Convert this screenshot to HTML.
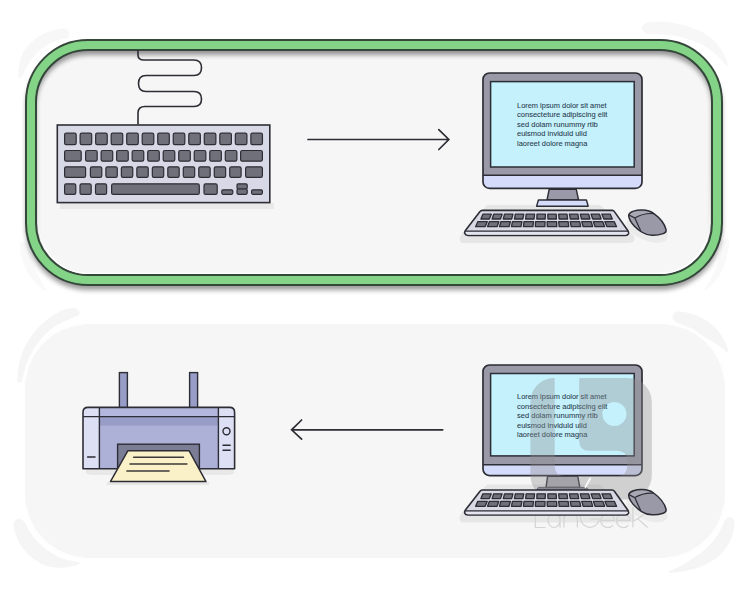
<!DOCTYPE html>
<html><head><meta charset="utf-8"><title>Input and output devices</title>
<style>
html,body{margin:0;padding:0;background:#fff;}
body{width:750px;height:600px;overflow:hidden;font-family:"Liberation Sans",sans-serif;}
svg{display:block;}
svg text{font-family:"Liberation Sans",sans-serif;}
</style></head><body>
<svg width="750" height="600" viewBox="0 0 750 600">
<defs>
<filter id="outsh" x="-5%" y="-10%" width="110%" height="125%"><feGaussianBlur stdDeviation="2.6"/><feOffset dy="4.5"/><feComponentTransfer><feFuncA type="linear" slope="0.40"/></feComponentTransfer></filter>
<filter id="insh" x="-5%" y="-10%" width="110%" height="125%"><feGaussianBlur stdDeviation="2.2"/><feOffset dy="4"/><feComponentTransfer><feFuncA type="linear" slope="0.42"/></feComponentTransfer></filter>
<filter id="soft" x="-20%" y="-20%" width="140%" height="140%"><feGaussianBlur stdDeviation="0.7"/></filter>
<filter id="fsh"><feOffset dy="0"/></filter>
<linearGradient id="hl" gradientUnits="userSpaceOnUse" x1="0" y1="170" x2="0" y2="262"><stop offset="0" stop-color="#fff" stop-opacity="0"/><stop offset="1" stop-color="#fff" stop-opacity="0.95"/></linearGradient>
<clipPath id="innerclip"><path d="M88,50H660A52,52 0 0 1 712,102V223A52,52 0 0 1 660,275H88A52,52 0 0 1 36,223V102A52,52 0 0 1 88,50Z"/></clipPath>
<clipPath id="wmclip"><rect x="520" y="370" width="140" height="121"/></clipPath>
</defs>
<path d="M19,77C19,62 24,50 32,43C42,34 52,30.5 63,29.5Q71,30.5 67.5,37.5C58,38.5 50,41.5 44,46C34,53 26,63 21.5,76Z" fill="#f7f7f7" stroke="#f7f7f7" stroke-width="2" stroke-linejoin="round" filter="url(#soft)"/>
<path d="M647,33Q639,28 646.5,23.5C660,21 680,23 700,32C713,39 723,50 727,65C719,55 712,49 704,44.5C690,37 670,32.5 647,33Z" fill="#f7f7f7" stroke="#f7f7f7" stroke-width="2" stroke-linejoin="round" filter="url(#soft)"/>
<path d="M21,243C21,262 30,280 45,290C36,276 30,262 28,244Z" fill="#f9f9f9" stroke="#f9f9f9" stroke-width="2" stroke-linejoin="round" filter="url(#soft)"/>
<path d="M728,240C728,260 720,278 706,289C716,274 721,262 722,242Z" fill="#f9f9f9" stroke="#f9f9f9" stroke-width="2" stroke-linejoin="round" filter="url(#soft)"/>
<path d="M18.3,382C18,355 28,335 50,318.5C58,313 66,309.5 72,309Q80.5,309.5 78,314.5C68,318.5 60,322 55,325C38,337 26,355 21,381Z" fill="#f5f5f5" stroke="#f5f5f5" stroke-width="2" stroke-linejoin="round" filter="url(#soft)"/>
<path d="M676,321Q670.5,316.5 676.5,312.5C690,312 706,319 716,330C722,337 726,344 727,351C721,344 710,339.5 700,333.5C692,329 684,324.5 676,321Z" fill="#f5f5f5" stroke="#f5f5f5" stroke-width="2" stroke-linejoin="round" filter="url(#soft)"/>
<path d="M725.5,521Q729.5,515 733.5,521C734,535 727,550 712,560C700,567.5 685,571.5 670,572C682,567 690,562 697,556.5C709,549 719,538 725.5,521Z" fill="#f5f5f5" stroke="#f5f5f5" stroke-width="2" stroke-linejoin="round" filter="url(#soft)"/>
<path d="M24.5,523.5Q19,516.5 14.5,523C15,537 24,553 40,562C52,568 66,568 78.5,563C70,562 64,560.5 58.3,558C44,551 30,538 24.5,523.5Z" fill="#f5f5f5" stroke="#f5f5f5" stroke-width="2" stroke-linejoin="round" filter="url(#soft)"/>
<g filter="url(#fsh)">
<path d="M88,50H660A52,52 0 0 1 712,102V223A52,52 0 0 1 660,275H88A52,52 0 0 1 36,223V102A52,52 0 0 1 88,50Z" fill="#f6f6f6"/>
</g>
<path d="M88,50H660A52,52 0 0 1 712,102V223A52,52 0 0 1 660,275H88A52,52 0 0 1 36,223V102A52,52 0 0 1 88,50Z" fill="#f6f6f6"/>
<path d="M88,40H660A62,62 0 0 1 722,102V223A62,62 0 0 1 660,285H88A62,62 0 0 1 26,223V102A62,62 0 0 1 88,40Z M88,50H660A52,52 0 0 1 712,102V223A52,52 0 0 1 660,275H88A52,52 0 0 1 36,223V102A52,52 0 0 1 88,50Z" fill-rule="evenodd" fill="#000" filter="url(#outsh)"/>
<path d="M88,40H660A62,62 0 0 1 722,102V223A62,62 0 0 1 660,285H88A62,62 0 0 1 26,223V102A62,62 0 0 1 88,40Z M88,50H660A52,52 0 0 1 712,102V223A52,52 0 0 1 660,275H88A52,52 0 0 1 36,223V102A52,52 0 0 1 88,50Z" fill-rule="evenodd" fill="#83d487" stroke="#35463a" stroke-width="2"/>
<path d="M38.6,170V223A50.4,50.4 0 0 0 89,273.4H659A50.4,50.4 0 0 0 709.4,223V170" fill="none" stroke="url(#hl)" stroke-width="1.4"/>
<path d="M88,324H662A63,63 0 0 1 725,387V495A63,63 0 0 1 662,558H88A63,63 0 0 1 25,495V387A63,63 0 0 1 88,324Z" fill="#f6f6f6"/>
<path d="M25,375.9A64,64 0 0 1 82.4,323.2M667.6,323.2A64,64 0 0 1 725,375.9M725,506.1A64,64 0 0 1 667.6,558.8M82.4,558.8A64,64 0 0 1 25,506.1" fill="none" stroke="#fefefe" stroke-width="3" stroke-linecap="round" filter="url(#soft)"/>
<rect x="60" y="203" width="214" height="6" fill="#e9e9ea"/>
<path d="M138,50.5V55Q138,60 144,60H194Q201.5,60 201.5,67.75Q201.5,75.5 194,75.5H146Q138.5,75.5 138.5,83.5Q138.5,91.5 146,91.5H194Q201.5,91.5 201.5,99Q201.5,106.5 194,106.5H145Q138,106.5 138,113V124.5" fill="none" stroke="#2d2d35" stroke-width="1.6"/>
<rect x="57.3" y="125" width="212.5" height="77.6" fill="#d7d9e7" stroke="#2d2d35" stroke-width="1.6"/>
<rect x="64.60" y="133.20" width="11.60" height="11.40" rx="1.6" fill="#6f7079" stroke="#2d2d35" stroke-width="1.2"/>
<rect x="80.12" y="133.20" width="11.60" height="11.40" rx="1.6" fill="#6f7079" stroke="#2d2d35" stroke-width="1.2"/>
<rect x="95.64" y="133.20" width="11.60" height="11.40" rx="1.6" fill="#6f7079" stroke="#2d2d35" stroke-width="1.2"/>
<rect x="111.16" y="133.20" width="11.60" height="11.40" rx="1.6" fill="#6f7079" stroke="#2d2d35" stroke-width="1.2"/>
<rect x="126.68" y="133.20" width="11.60" height="11.40" rx="1.6" fill="#6f7079" stroke="#2d2d35" stroke-width="1.2"/>
<rect x="142.20" y="133.20" width="11.60" height="11.40" rx="1.6" fill="#6f7079" stroke="#2d2d35" stroke-width="1.2"/>
<rect x="157.72" y="133.20" width="11.60" height="11.40" rx="1.6" fill="#6f7079" stroke="#2d2d35" stroke-width="1.2"/>
<rect x="173.24" y="133.20" width="11.60" height="11.40" rx="1.6" fill="#6f7079" stroke="#2d2d35" stroke-width="1.2"/>
<rect x="188.76" y="133.20" width="11.60" height="11.40" rx="1.6" fill="#6f7079" stroke="#2d2d35" stroke-width="1.2"/>
<rect x="204.28" y="133.20" width="11.60" height="11.40" rx="1.6" fill="#6f7079" stroke="#2d2d35" stroke-width="1.2"/>
<rect x="219.80" y="133.20" width="11.60" height="11.40" rx="1.6" fill="#6f7079" stroke="#2d2d35" stroke-width="1.2"/>
<rect x="235.32" y="133.20" width="11.60" height="11.40" rx="1.6" fill="#6f7079" stroke="#2d2d35" stroke-width="1.2"/>
<rect x="250.84" y="133.20" width="11.60" height="11.40" rx="1.6" fill="#6f7079" stroke="#2d2d35" stroke-width="1.2"/>
<rect x="64.60" y="150.50" width="16.60" height="10.70" rx="1.6" fill="#6f7079" stroke="#2d2d35" stroke-width="1.2"/>
<rect x="85.60" y="150.50" width="11.60" height="10.70" rx="1.6" fill="#6f7079" stroke="#2d2d35" stroke-width="1.2"/>
<rect x="101.12" y="150.50" width="11.60" height="10.70" rx="1.6" fill="#6f7079" stroke="#2d2d35" stroke-width="1.2"/>
<rect x="116.64" y="150.50" width="11.60" height="10.70" rx="1.6" fill="#6f7079" stroke="#2d2d35" stroke-width="1.2"/>
<rect x="132.16" y="150.50" width="11.60" height="10.70" rx="1.6" fill="#6f7079" stroke="#2d2d35" stroke-width="1.2"/>
<rect x="147.68" y="150.50" width="11.60" height="10.70" rx="1.6" fill="#6f7079" stroke="#2d2d35" stroke-width="1.2"/>
<rect x="163.20" y="150.50" width="11.60" height="10.70" rx="1.6" fill="#6f7079" stroke="#2d2d35" stroke-width="1.2"/>
<rect x="178.72" y="150.50" width="11.60" height="10.70" rx="1.6" fill="#6f7079" stroke="#2d2d35" stroke-width="1.2"/>
<rect x="194.24" y="150.50" width="11.60" height="10.70" rx="1.6" fill="#6f7079" stroke="#2d2d35" stroke-width="1.2"/>
<rect x="209.76" y="150.50" width="11.60" height="10.70" rx="1.6" fill="#6f7079" stroke="#2d2d35" stroke-width="1.2"/>
<rect x="225.28" y="150.50" width="11.60" height="10.70" rx="1.6" fill="#6f7079" stroke="#2d2d35" stroke-width="1.2"/>
<rect x="240.60" y="150.50" width="21.80" height="10.70" rx="1.6" fill="#6f7079" stroke="#2d2d35" stroke-width="1.2"/>
<rect x="64.60" y="166.80" width="21.00" height="10.60" rx="1.6" fill="#6f7079" stroke="#2d2d35" stroke-width="1.2"/>
<rect x="90.40" y="166.80" width="11.40" height="10.60" rx="1.6" fill="#6f7079" stroke="#2d2d35" stroke-width="1.2"/>
<rect x="105.88" y="166.80" width="11.40" height="10.60" rx="1.6" fill="#6f7079" stroke="#2d2d35" stroke-width="1.2"/>
<rect x="121.36" y="166.80" width="11.40" height="10.60" rx="1.6" fill="#6f7079" stroke="#2d2d35" stroke-width="1.2"/>
<rect x="136.84" y="166.80" width="11.40" height="10.60" rx="1.6" fill="#6f7079" stroke="#2d2d35" stroke-width="1.2"/>
<rect x="152.32" y="166.80" width="11.40" height="10.60" rx="1.6" fill="#6f7079" stroke="#2d2d35" stroke-width="1.2"/>
<rect x="167.80" y="166.80" width="11.40" height="10.60" rx="1.6" fill="#6f7079" stroke="#2d2d35" stroke-width="1.2"/>
<rect x="183.28" y="166.80" width="11.40" height="10.60" rx="1.6" fill="#6f7079" stroke="#2d2d35" stroke-width="1.2"/>
<rect x="198.76" y="166.80" width="11.40" height="10.60" rx="1.6" fill="#6f7079" stroke="#2d2d35" stroke-width="1.2"/>
<rect x="214.24" y="166.80" width="11.40" height="10.60" rx="1.6" fill="#6f7079" stroke="#2d2d35" stroke-width="1.2"/>
<rect x="229.72" y="166.80" width="11.40" height="10.60" rx="1.6" fill="#6f7079" stroke="#2d2d35" stroke-width="1.2"/>
<rect x="245.60" y="166.80" width="16.80" height="10.60" rx="1.6" fill="#6f7079" stroke="#2d2d35" stroke-width="1.2"/>
<rect x="64.60" y="183.80" width="11.20" height="10.50" rx="1.6" fill="#6f7079" stroke="#2d2d35" stroke-width="1.2"/>
<rect x="80.00" y="183.80" width="11.20" height="10.50" rx="1.6" fill="#6f7079" stroke="#2d2d35" stroke-width="1.2"/>
<rect x="95.50" y="183.80" width="11.10" height="10.50" rx="1.6" fill="#6f7079" stroke="#2d2d35" stroke-width="1.2"/>
<rect x="111.60" y="183.80" width="87.70" height="10.50" rx="1.6" fill="#6f7079" stroke="#2d2d35" stroke-width="1.2"/>
<rect x="204.00" y="183.80" width="13.20" height="10.50" rx="1.6" fill="#6f7079" stroke="#2d2d35" stroke-width="1.2"/>
<rect x="221.80" y="189.80" width="11.00" height="4.50" rx="1.2" fill="#6f7079" stroke="#2d2d35" stroke-width="1.2"/>
<rect x="237.00" y="183.80" width="10.20" height="5.20" rx="1.2" fill="#6f7079" stroke="#2d2d35" stroke-width="1.2"/>
<rect x="237.00" y="189.00" width="10.20" height="5.30" rx="1.2" fill="#6f7079" stroke="#2d2d35" stroke-width="1.2"/>
<rect x="251.60" y="189.80" width="10.80" height="4.50" rx="1.2" fill="#6f7079" stroke="#2d2d35" stroke-width="1.2"/>
<path d="M308,139.5H448.5M438.8,129.7L448.8,139.5L438.8,149.5" fill="none" stroke="#2d2d35" stroke-width="1.7" stroke-linecap="round" stroke-linejoin="miter"/>
<path d="M442.7,429.8H292M301.6,420L291.6,429.8L301.6,439.2" fill="none" stroke="#2d2d35" stroke-width="1.7" stroke-linecap="round" stroke-linejoin="miter"/>
<path d="M487,205.0H600L634,236.0Q636,243.0 628,243.0H462Q457,240.0 462,233.0Z" fill="#e6e6e7"/>
<ellipse cx="647" cy="230.0" rx="22" ry="10.5" transform="rotate(22 647 230.0)" fill="#ebebec"/>
<path d="M549.2,189.2H576.2L578.6,200.0H547Z" fill="#9a99a8" stroke="#2d2d35" stroke-width="1.4" stroke-linejoin="round"/>
<path d="M538.4,200.0H586.4L588.2,206.2H536.6Z" fill="#d5dcfb" stroke="#2d2d35" stroke-width="1.4" stroke-linejoin="round"/>
<clipPath id="mc72"><path d="M489.5,73.0H635.5A6.5,6.5 0 0 1 642,79.5V181.89999999999998A6.5,6.5 0 0 1 635.5,188.39999999999998H489.5A6.5,6.5 0 0 1 483,181.89999999999998V79.5A6.5,6.5 0 0 1 489.5,73.0Z"/></clipPath>
<g clip-path="url(#mc72)"><rect x="480" y="72.2" width="166" height="103.10000000000001" fill="#9a99a8"/><rect x="480" y="175.3" width="166" height="15.899999999999977" fill="#d5dcfb"/></g>
<path d="M483,175.3H642" stroke="#2d2d35" stroke-width="1.5"/>
<path d="M489.5,73.0H635.5A6.5,6.5 0 0 1 642,79.5V181.89999999999998A6.5,6.5 0 0 1 635.5,188.39999999999998H489.5A6.5,6.5 0 0 1 483,181.89999999999998V79.5A6.5,6.5 0 0 1 489.5,73.0Z" fill="none" stroke="#2d2d35" stroke-width="1.7"/>
<rect x="490.6" y="81.6" width="143.6" height="85.4" fill="#c4f1fc" stroke="#2d2d35" stroke-width="1.5"/>
<text x="517" y="108.0" textLength="89.6" lengthAdjust="spacingAndGlyphs" font-size="7.7" fill="#2b3d4d" stroke="#2b3d4d" stroke-width="0.08">Lorem ipsum dolor sit amet</text>
<text x="517" y="117.4" textLength="90.4" lengthAdjust="spacingAndGlyphs" font-size="7.7" fill="#2b3d4d" stroke="#2b3d4d" stroke-width="0.08">consecteture adipiscing elit</text>
<text x="517" y="126.8" textLength="80.8" lengthAdjust="spacingAndGlyphs" font-size="7.7" fill="#2b3d4d" stroke="#2b3d4d" stroke-width="0.08">sed dolam runummy rtib</text>
<text x="517" y="136.2" textLength="69.9" lengthAdjust="spacingAndGlyphs" font-size="7.7" fill="#2b3d4d" stroke="#2b3d4d" stroke-width="0.08">euismod inviduld ulid</text>
<text x="517" y="145.6" textLength="70.4" lengthAdjust="spacingAndGlyphs" font-size="7.7" fill="#2b3d4d" stroke="#2b3d4d" stroke-width="0.08">laoreet dolore magna</text>
<path d="M482.2,210.4H612.4Q613.6,210.4 614.4,211.6L627.6,230.2Q629,232.2 628.4,233.8Q627.6,235.4 625.6,235.4H468Q465.4,235.4 464.8,233.6Q464.2,231.79999999999998 465.6,230.2L480,211.6Q480.8,210.4 482.2,210.4Z" fill="#d8d9e5" stroke="#2d2d35" stroke-width="1.6" stroke-linejoin="round"/>
<path d="M466,231.79999999999998H627.4Q628,234.20000000000002 625.6,234.70000000000002H468Q465.6,234.4 466,231.79999999999998Z" fill="#e4e5ef"/>
<path d="M465.2,231.2H628" stroke="#2d2d35" stroke-width="1.3"/>
<path d="M482.90,214.20L491.30,214.20L489.30,219.00L480.90,219.00Z" fill="#6f7079" stroke="#2d2d35" stroke-width="1.3" stroke-linejoin="round"/>
<path d="M493.72,214.20L502.12,214.20L500.48,219.00L492.08,219.00Z" fill="#6f7079" stroke="#2d2d35" stroke-width="1.3" stroke-linejoin="round"/>
<path d="M504.54,214.20L512.94,214.20L511.66,219.00L503.26,219.00Z" fill="#6f7079" stroke="#2d2d35" stroke-width="1.3" stroke-linejoin="round"/>
<path d="M515.35,214.20L523.75,214.20L522.85,219.00L514.45,219.00Z" fill="#6f7079" stroke="#2d2d35" stroke-width="1.3" stroke-linejoin="round"/>
<path d="M526.17,214.20L534.57,214.20L534.03,219.00L525.63,219.00Z" fill="#6f7079" stroke="#2d2d35" stroke-width="1.3" stroke-linejoin="round"/>
<path d="M536.99,214.20L545.39,214.20L545.21,219.00L536.81,219.00Z" fill="#6f7079" stroke="#2d2d35" stroke-width="1.3" stroke-linejoin="round"/>
<path d="M547.81,214.20L556.21,214.20L556.39,219.00L547.99,219.00Z" fill="#6f7079" stroke="#2d2d35" stroke-width="1.3" stroke-linejoin="round"/>
<path d="M558.63,214.20L567.03,214.20L567.57,219.00L559.17,219.00Z" fill="#6f7079" stroke="#2d2d35" stroke-width="1.3" stroke-linejoin="round"/>
<path d="M569.45,214.20L577.85,214.20L578.75,219.00L570.35,219.00Z" fill="#6f7079" stroke="#2d2d35" stroke-width="1.3" stroke-linejoin="round"/>
<path d="M580.26,214.20L588.66,214.20L589.94,219.00L581.54,219.00Z" fill="#6f7079" stroke="#2d2d35" stroke-width="1.3" stroke-linejoin="round"/>
<path d="M591.08,214.20L599.48,214.20L601.12,219.00L592.72,219.00Z" fill="#6f7079" stroke="#2d2d35" stroke-width="1.3" stroke-linejoin="round"/>
<path d="M601.90,214.20L610.30,214.20L612.30,219.00L603.90,219.00Z" fill="#6f7079" stroke="#2d2d35" stroke-width="1.3" stroke-linejoin="round"/>
<path d="M477.80,221.70L487.30,221.70L485.10,226.70L475.60,226.70Z" fill="#6f7079" stroke="#2d2d35" stroke-width="1.3" stroke-linejoin="round"/>
<path d="M489.35,221.70L498.85,221.70L497.05,226.70L487.55,226.70Z" fill="#6f7079" stroke="#2d2d35" stroke-width="1.3" stroke-linejoin="round"/>
<path d="M500.90,221.70L510.40,221.70L509.00,226.70L499.50,226.70Z" fill="#6f7079" stroke="#2d2d35" stroke-width="1.3" stroke-linejoin="round"/>
<path d="M512.45,221.70L521.95,221.70L520.95,226.70L511.45,226.70Z" fill="#6f7079" stroke="#2d2d35" stroke-width="1.3" stroke-linejoin="round"/>
<path d="M524.00,221.70L533.50,221.70L532.90,226.70L523.40,226.70Z" fill="#6f7079" stroke="#2d2d35" stroke-width="1.3" stroke-linejoin="round"/>
<path d="M535.55,221.70L545.05,221.70L544.85,226.70L535.35,226.70Z" fill="#6f7079" stroke="#2d2d35" stroke-width="1.3" stroke-linejoin="round"/>
<path d="M547.10,221.70L556.60,221.70L556.80,226.70L547.30,226.70Z" fill="#6f7079" stroke="#2d2d35" stroke-width="1.3" stroke-linejoin="round"/>
<path d="M558.65,221.70L568.15,221.70L568.75,226.70L559.25,226.70Z" fill="#6f7079" stroke="#2d2d35" stroke-width="1.3" stroke-linejoin="round"/>
<path d="M570.20,221.70L579.70,221.70L580.70,226.70L571.20,226.70Z" fill="#6f7079" stroke="#2d2d35" stroke-width="1.3" stroke-linejoin="round"/>
<path d="M581.75,221.70L591.25,221.70L592.65,226.70L583.15,226.70Z" fill="#6f7079" stroke="#2d2d35" stroke-width="1.3" stroke-linejoin="round"/>
<path d="M593.30,221.70L602.80,221.70L604.60,226.70L595.10,226.70Z" fill="#6f7079" stroke="#2d2d35" stroke-width="1.3" stroke-linejoin="round"/>
<path d="M604.85,221.70L614.35,221.70L616.55,226.70L607.05,226.70Z" fill="#6f7079" stroke="#2d2d35" stroke-width="1.3" stroke-linejoin="round"/>
<path d="M628.8,214.8C629.6,211.6 636,209.8 642.4,210.0C647.4,210.2 651,211.4 653.6,213.4C659.4,217.6 664.6,224.0 666,229.4C666.6,232.0 665.2,233.0 663.2,233.6C659.6,234.8 655.6,235.4 652,235.2C648,235.0 644.6,234.0 641.6,232.0C636.8,228.8 632.6,224.8 630.4,220.8C629.2,218.6 628.4,216.4 628.8,214.8Z" fill="#9a99a8"/>
<path d="M628.8,214.8C629.6,211.6 636,209.8 642.4,210.0C647.4,210.2 651,211.4 653.6,213.4C647.6,213.2 640.6,214.6 634.8,218.0Z" fill="#a8a8b5"/>
<path d="M628.8,214.8L634.8,218.0C636.8,222.4 638.6,226.6 640.6,230.6C636.8,228.8 632.6,224.8 630.4,220.8C629.2,218.6 628.4,216.4 628.8,214.8Z" fill="#a1a1ae"/>
<path d="M628.8,214.8C629.6,211.6 636,209.8 642.4,210.0C647.4,210.2 651,211.4 653.6,213.4C659.4,217.6 664.6,224.0 666,229.4C666.6,232.0 665.2,233.0 663.2,233.6C659.6,234.8 655.6,235.4 652,235.2C648,235.0 644.6,234.0 641.6,232.0C636.8,228.8 632.6,224.8 630.4,220.8C629.2,218.6 628.4,216.4 628.8,214.8Z" fill="none" stroke="#2d2d35" stroke-width="1.5" stroke-linejoin="round"/>
<path d="M629,215.0L634.8,218.0C636.8,222.4 638.6,226.6 640.6,230.6M634.8,218.0C640.6,214.6 647.6,213.2 653.4,213.6" fill="none" stroke="#2d2d35" stroke-width="1.2" stroke-linecap="round"/>
<path d="M86,469H234V473Q232,475 228,475H92Q88,475 86,473Z" fill="#e8e8e9"/>
<path d="M107,482H209V485H107Z" fill="#e6e6e7"/>
<rect x="119.4" y="372.6" width="8" height="36" fill="#989dc8" stroke="#2d2d35" stroke-width="1.4"/>
<rect x="189.6" y="372.6" width="8" height="36" fill="#989dc8" stroke="#2d2d35" stroke-width="1.4"/>
<clipPath id="pc"><path d="M88,407.4H229.6Q234.6,407.4 234.6,412.4V468.8H83V412.4Q83,407.4 88,407.4Z"/></clipPath>
<g clip-path="url(#pc)"><rect x="80" y="400" width="160" height="75" fill="#adb1d8"/><rect x="80" y="400" width="160" height="16.6" fill="#b3b7de"/><rect x="99" y="416.6" width="119.5" height="9" fill="#989dc8"/><rect x="80" y="400" width="19.4" height="75" fill="#dddff4"/><rect x="218.4" y="400" width="20" height="75" fill="#dddff4"/></g>
<path d="M99.4,407.4V468.8M218.4,407.4V468.8M83,416.6H234.6" stroke="#2d2d35" stroke-width="1.4" fill="none"/>
<path d="M88,407.4H229.6Q234.6,407.4 234.6,412.4V468.8H83V412.4Q83,407.4 88,407.4Z" fill="none" stroke="#2d2d35" stroke-width="1.6" stroke-linejoin="round"/>
<rect x="117.6" y="444.2" width="81.8" height="24.6" fill="#7b7d97" stroke="#2d2d35" stroke-width="1.4"/>
<path d="M127.8,450.8H189.2L206,481.6H110.4Z" fill="#fbf1c9" stroke="#2d2d35" stroke-width="1.5" stroke-linejoin="round"/>
<path d="M133.6,457.2H183.5M130,463.9H186.9M126.9,470.9H169.1" stroke="#3c3a3a" stroke-width="1.5" stroke-linecap="round"/>
<path d="M87.6,457H95" stroke="#2d2d35" stroke-width="1.5" stroke-linecap="round"/>
<circle cx="226.5" cy="431.3" r="3.5" fill="#dddff4" stroke="#2d2d35" stroke-width="1.4"/>
<path d="M223,445.2H230.2M223,450.2H230.2" stroke="#2d2d35" stroke-width="1.4" stroke-linecap="round"/>
<path d="M487,484.6H600L634,515.6Q636,522.6 628,522.6H462Q457,519.6 462,512.6Z" fill="#e6e6e7"/>
<ellipse cx="647" cy="509.6" rx="22" ry="10.5" transform="rotate(22 647 509.6)" fill="#ebebec"/>
<path d="M547.6,476.4H577.8L579.8,487.4H546Z" fill="#b0b0b8" stroke="#2d2d35" stroke-width="1.4" stroke-linejoin="round"/>
<path d="M538.4,487.4H586.4L588.2,490.0H536.6Z" fill="#8a8996" stroke="#55555e" stroke-width="1" stroke-linejoin="round"/>
<clipPath id="mc364"><path d="M489.5,365.0H635.5A6.5,6.5 0 0 1 642,371.5V469.09999999999997A6.5,6.5 0 0 1 635.5,475.59999999999997H489.5A6.5,6.5 0 0 1 483,469.09999999999997V371.5A6.5,6.5 0 0 1 489.5,365.0Z"/></clipPath>
<g clip-path="url(#mc364)"><rect x="480" y="364.2" width="166" height="100.60000000000002" fill="#9a99a8"/><rect x="480" y="464.8" width="166" height="13.599999999999966" fill="#d5dcfb"/></g>
<path d="M483,464.8H642" stroke="#2d2d35" stroke-width="1.5"/>
<path d="M489.5,365.0H635.5A6.5,6.5 0 0 1 642,371.5V469.09999999999997A6.5,6.5 0 0 1 635.5,475.59999999999997H489.5A6.5,6.5 0 0 1 483,469.09999999999997V371.5A6.5,6.5 0 0 1 489.5,365.0Z" fill="none" stroke="#2d2d35" stroke-width="1.7"/>
<rect x="490.6" y="373.5" width="143.6" height="82.39999999999998" fill="#c4f1fc" stroke="#2d2d35" stroke-width="1.5"/>
<text x="517" y="399.3" textLength="89.6" lengthAdjust="spacingAndGlyphs" font-size="7.7" fill="#2b3d4d" stroke="#2b3d4d" stroke-width="0.08">Lorem ipsum dolor sit amet</text>
<text x="517" y="408.7" textLength="90.4" lengthAdjust="spacingAndGlyphs" font-size="7.7" fill="#2b3d4d" stroke="#2b3d4d" stroke-width="0.08">consecteture adipiscing elit</text>
<text x="517" y="418.1" textLength="80.8" lengthAdjust="spacingAndGlyphs" font-size="7.7" fill="#2b3d4d" stroke="#2b3d4d" stroke-width="0.08">sed dolam runummy rtib</text>
<text x="517" y="427.5" textLength="69.9" lengthAdjust="spacingAndGlyphs" font-size="7.7" fill="#2b3d4d" stroke="#2b3d4d" stroke-width="0.08">euismod inviduld ulid</text>
<text x="517" y="436.9" textLength="70.4" lengthAdjust="spacingAndGlyphs" font-size="7.7" fill="#2b3d4d" stroke="#2b3d4d" stroke-width="0.08">laoreet dolore magna</text>
<path d="M554.4,378H627.8A24,24 0 0 1 651.8,402V475.4A24,24 0 0 1 627.8,499.4H554.4A24,24 0 0 1 530.4,475.4V402A24,24 0 0 1 554.4,378Z M554.7,378H579.2V441Q579.2,450.8 589,450.8H617Q627.2,450.8 627.2,461V466Q627.2,476 617,476H565Q554.7,476 554.7,466Z M602.4,414A12,12 0 1 0 626.4,414A12,12 0 1 0 602.4,414Z" fill-rule="evenodd" fill="#8c8c91" fill-opacity="0.36"/>
<path d="M590.2,478.4L585.4,487" stroke="#f8f8f8" stroke-width="2" stroke-linecap="round"/>
<path d="M535.3,507V527.5H545.5 M560,513.5V527.5 M560,520.5A6,7 0 1 0 548,520.5A6,7 0 1 0 560,520.5 M564,513.5V527.5 M564,520C564,515.8 567,513.5 570.7,513.5C574.6,513.5 577.4,516 577.4,520.4V527.5 M598.2,511.3A9.6,10.5 0 1 0 599.4,519H590.5 M600.9,520.3H614.5A6.8,7 0 1 0 612.9,525.2 M616.5,520.3H630.1A6.8,7 0 1 0 628.5,525.2 M632.9,507V527.5 M645.6,513.5L633,521.6 M637.6,518.6L647.6,527.5" fill="none" stroke="#d4d4d4" stroke-width="1.2"/>
<path d="M482.2,490.0H612.4Q613.6,490.0 614.4,491.2L627.6,509.8Q629,511.8 628.4,513.4Q627.6,515.0 625.6,515.0H468Q465.4,515.0 464.8,513.2Q464.2,511.40000000000003 465.6,509.8L480,491.2Q480.8,490.0 482.2,490.0Z" fill="#d8d9e5" stroke="#2d2d35" stroke-width="1.6" stroke-linejoin="round"/>
<path d="M466,511.40000000000003H627.4Q628,513.8 625.6,514.3H468Q465.6,514.0 466,511.40000000000003Z" fill="#e4e5ef"/>
<path d="M465.2,510.8H628" stroke="#2d2d35" stroke-width="1.3"/>
<path d="M482.90,493.80L491.30,493.80L489.30,498.60L480.90,498.60Z" fill="#6f7079" stroke="#2d2d35" stroke-width="1.3" stroke-linejoin="round"/>
<path d="M493.72,493.80L502.12,493.80L500.48,498.60L492.08,498.60Z" fill="#6f7079" stroke="#2d2d35" stroke-width="1.3" stroke-linejoin="round"/>
<path d="M504.54,493.80L512.94,493.80L511.66,498.60L503.26,498.60Z" fill="#6f7079" stroke="#2d2d35" stroke-width="1.3" stroke-linejoin="round"/>
<path d="M515.35,493.80L523.75,493.80L522.85,498.60L514.45,498.60Z" fill="#6f7079" stroke="#2d2d35" stroke-width="1.3" stroke-linejoin="round"/>
<path d="M526.17,493.80L534.57,493.80L534.03,498.60L525.63,498.60Z" fill="#6f7079" stroke="#2d2d35" stroke-width="1.3" stroke-linejoin="round"/>
<path d="M536.99,493.80L545.39,493.80L545.21,498.60L536.81,498.60Z" fill="#6f7079" stroke="#2d2d35" stroke-width="1.3" stroke-linejoin="round"/>
<path d="M547.81,493.80L556.21,493.80L556.39,498.60L547.99,498.60Z" fill="#6f7079" stroke="#2d2d35" stroke-width="1.3" stroke-linejoin="round"/>
<path d="M558.63,493.80L567.03,493.80L567.57,498.60L559.17,498.60Z" fill="#6f7079" stroke="#2d2d35" stroke-width="1.3" stroke-linejoin="round"/>
<path d="M569.45,493.80L577.85,493.80L578.75,498.60L570.35,498.60Z" fill="#6f7079" stroke="#2d2d35" stroke-width="1.3" stroke-linejoin="round"/>
<path d="M580.26,493.80L588.66,493.80L589.94,498.60L581.54,498.60Z" fill="#6f7079" stroke="#2d2d35" stroke-width="1.3" stroke-linejoin="round"/>
<path d="M591.08,493.80L599.48,493.80L601.12,498.60L592.72,498.60Z" fill="#6f7079" stroke="#2d2d35" stroke-width="1.3" stroke-linejoin="round"/>
<path d="M601.90,493.80L610.30,493.80L612.30,498.60L603.90,498.60Z" fill="#6f7079" stroke="#2d2d35" stroke-width="1.3" stroke-linejoin="round"/>
<path d="M477.80,501.30L487.30,501.30L485.10,506.30L475.60,506.30Z" fill="#6f7079" stroke="#2d2d35" stroke-width="1.3" stroke-linejoin="round"/>
<path d="M489.35,501.30L498.85,501.30L497.05,506.30L487.55,506.30Z" fill="#6f7079" stroke="#2d2d35" stroke-width="1.3" stroke-linejoin="round"/>
<path d="M500.90,501.30L510.40,501.30L509.00,506.30L499.50,506.30Z" fill="#6f7079" stroke="#2d2d35" stroke-width="1.3" stroke-linejoin="round"/>
<path d="M512.45,501.30L521.95,501.30L520.95,506.30L511.45,506.30Z" fill="#6f7079" stroke="#2d2d35" stroke-width="1.3" stroke-linejoin="round"/>
<path d="M524.00,501.30L533.50,501.30L532.90,506.30L523.40,506.30Z" fill="#6f7079" stroke="#2d2d35" stroke-width="1.3" stroke-linejoin="round"/>
<path d="M535.55,501.30L545.05,501.30L544.85,506.30L535.35,506.30Z" fill="#6f7079" stroke="#2d2d35" stroke-width="1.3" stroke-linejoin="round"/>
<path d="M547.10,501.30L556.60,501.30L556.80,506.30L547.30,506.30Z" fill="#6f7079" stroke="#2d2d35" stroke-width="1.3" stroke-linejoin="round"/>
<path d="M558.65,501.30L568.15,501.30L568.75,506.30L559.25,506.30Z" fill="#6f7079" stroke="#2d2d35" stroke-width="1.3" stroke-linejoin="round"/>
<path d="M570.20,501.30L579.70,501.30L580.70,506.30L571.20,506.30Z" fill="#6f7079" stroke="#2d2d35" stroke-width="1.3" stroke-linejoin="round"/>
<path d="M581.75,501.30L591.25,501.30L592.65,506.30L583.15,506.30Z" fill="#6f7079" stroke="#2d2d35" stroke-width="1.3" stroke-linejoin="round"/>
<path d="M593.30,501.30L602.80,501.30L604.60,506.30L595.10,506.30Z" fill="#6f7079" stroke="#2d2d35" stroke-width="1.3" stroke-linejoin="round"/>
<path d="M604.85,501.30L614.35,501.30L616.55,506.30L607.05,506.30Z" fill="#6f7079" stroke="#2d2d35" stroke-width="1.3" stroke-linejoin="round"/>
<path d="M628.8,494.40000000000003C629.6,491.20000000000005 636,489.40000000000003 642.4,489.6C647.4,489.8 651,491.0 653.6,493.0C659.4,497.20000000000005 664.6,503.6 666,509.0C666.6,511.6 665.2,512.6 663.2,513.2C659.6,514.4000000000001 655.6,515.0 652,514.8C648,514.6 644.6,513.6 641.6,511.6C636.8,508.40000000000003 632.6,504.40000000000003 630.4,500.40000000000003C629.2,498.20000000000005 628.4,496.0 628.8,494.40000000000003Z" fill="#9a99a8"/>
<path d="M628.8,494.40000000000003C629.6,491.20000000000005 636,489.40000000000003 642.4,489.6C647.4,489.8 651,491.0 653.6,493.0C647.6,492.8 640.6,494.20000000000005 634.8,497.6Z" fill="#a8a8b5"/>
<path d="M628.8,494.40000000000003L634.8,497.6C636.8,502.0 638.6,506.20000000000005 640.6,510.20000000000005C636.8,508.40000000000003 632.6,504.40000000000003 630.4,500.40000000000003C629.2,498.20000000000005 628.4,496.0 628.8,494.40000000000003Z" fill="#a1a1ae"/>
<path d="M628.8,494.40000000000003C629.6,491.20000000000005 636,489.40000000000003 642.4,489.6C647.4,489.8 651,491.0 653.6,493.0C659.4,497.20000000000005 664.6,503.6 666,509.0C666.6,511.6 665.2,512.6 663.2,513.2C659.6,514.4000000000001 655.6,515.0 652,514.8C648,514.6 644.6,513.6 641.6,511.6C636.8,508.40000000000003 632.6,504.40000000000003 630.4,500.40000000000003C629.2,498.20000000000005 628.4,496.0 628.8,494.40000000000003Z" fill="none" stroke="#2d2d35" stroke-width="1.5" stroke-linejoin="round"/>
<path d="M629,494.6L634.8,497.6C636.8,502.0 638.6,506.20000000000005 640.6,510.20000000000005M634.8,497.6C640.6,494.20000000000005 647.6,492.8 653.4,493.20000000000005" fill="none" stroke="#2d2d35" stroke-width="1.2" stroke-linecap="round"/>
</svg>
</body></html>
